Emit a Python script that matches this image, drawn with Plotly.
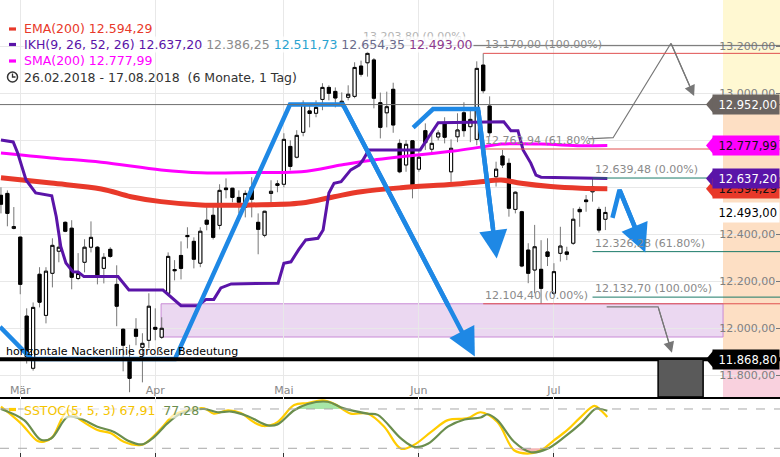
import plotly.graph_objects as go

# ---------------- data (trading-day index 0 = 26.02.2018) ----------------
opens = [12566, 12574, 12425, 12388, 12052, 11830, 12230, 12055, 12234, 12328,
         12451, 12426, 12212, 12281, 12345, 12345, 12255, 12336, 12187, 11996,
         11864, 11996, 11919, 11949, 12004, 11962, 12149, 12250, 12310, 12395,
         12370, 12277, 12460, 12481, 12438, 12597, 12596, 12557, 12515, 12600,
         12451, 12396, 12574, 12615, 12613, 12774, 12728, 12834, 12925, 12915,
         12974, 13025, 13008, 12953, 12983, 12987, 13116, 13130, 13142, 12960,
         12917, 13017, 12787, 12695, 12798, 12677, 12841, 12762, 12814, 12872,
         12666, 12815, 12917, 12858, 12804, 13120, 12946, 12645, 12733, 12702,
         12506, 12496, 12333, 12248, 12251, 12325, 12149, 12319, 12325, 12362,
         12506, 12546, 12581, 12506, 12464]
highs = [12600, 12587, 12516, 12390, 12085, 12110, 12260, 12260, 12383, 12383,
         12455, 12460, 12320, 12379, 12455, 12350, 12320, 12345, 12268, 12000,
         11930, 12043, 11979, 12149, 12085, 12047, 12323, 12290, 12370, 12430,
         12387, 12430, 12515, 12515, 12613, 12638, 12598, 12587, 12587, 12643,
         12489, 12500, 12630, 12630, 12830, 12800, 12843, 12970, 12957, 12970,
         13043, 13034, 13025, 13004, 13034, 13132, 13139, 13178, 13150, 13003,
         13007, 13045, 12804, 12801, 12801, 12759, 12872, 12830, 12843, 12898,
         12804, 12915, 12962, 12936, 13136, 13170, 12987, 12709, 12759, 12723,
         12583, 12500, 12362, 12440, 12375, 12383, 12277, 12432, 12347, 12511,
         12517, 12567, 12639.48, 12517, 12517]
lows = [12489, 12434, 12421, 12145, 11850, 11820, 12089, 12021, 12174, 12281,
        12409, 12166, 12205, 12238, 12323, 12187, 12191, 12300, 12009, 11817,
        11728, 11928, 11770, 11915, 11949, 11955, 12140, 12204, 12208, 12340,
        12255, 12260, 12417, 12378, 12421, 12553, 12536, 12489, 12472, 12472,
        12315, 12387, 12532, 12579, 12600, 12672, 12723, 12817, 12855, 12898,
        12928, 12970, 12940, 12940, 12970, 12979, 13071, 13071, 12936, 12808,
        12855, 12832, 12660, 12666, 12553, 12666, 12759, 12738, 12800, 12787,
        12623, 12792, 12815, 12792, 12779, 13000, 12815, 12603, 12682, 12475,
        12489, 12260, 12192, 12149, 12104.4, 12265, 12142, 12284, 12290, 12355,
        12432, 12496, 12539, 12407, 12418]
closes = [12528, 12489, 12433, 12187, 11880, 12089, 12111, 12243, 12353, 12345,
          12413, 12217, 12233, 12345, 12387, 12217, 12302, 12306, 12094, 11928,
          11787, 11966, 11936, 12094, 11996, 12000, 12306, 12245, 12255, 12390,
          12294, 12413, 12443, 12387, 12587, 12590, 12557, 12536, 12574, 12549,
          12421, 12498, 12583, 12608, 12804, 12689, 12821, 12957, 12914, 12940,
          13025, 13000, 12980, 12966, 12996, 13110, 13081, 13170, 12979, 12855,
          12943, 12865, 12666, 12783, 12606, 12728, 12790, 12787, 12831, 12813,
          12766, 12844, 12841, 12889, 13106, 13011, 12832, 12677, 12695, 12511,
          12579, 12265, 12234, 12347, 12170, 12306, 12241, 12350, 12315, 12464,
          12496, 12539, 12602, 12418, 12493]
day_idx = list(range(len(opens)))

month_idx = [3, 24, 44, 65, 86]
month_labels = ["Mär", "Apr", "Mai", "Jun", "Jul"]
price_ticks = [11800, 12000, 12200, 12400, 12600, 12800, 13000, 13200]

sma_x = [0, 7.8, 15.6, 24.9, 31.1, 38.9, 46.7, 52.9, 56.0, 62.2, 70.4, 74.6, 77.8, 84.0, 90.2, 94.3]
sma_y = [12746, 12725, 12707, 12674, 12662, 12663, 12666, 12695, 12709, 12730, 12754, 12771, 12784, 12784, 12777, 12777.99]

ema_x = [0, 7.8, 15.6, 20.2, 24.9, 31.1, 38.9, 46.7, 51.8, 56.0, 62.2, 70.4, 74.6, 77.8, 80.9, 85.5, 90.2, 94.3]
ema_y = [12641, 12618, 12593, 12560, 12539, 12525, 12525, 12533, 12560, 12581, 12598, 12613, 12624, 12631, 12617, 12603, 12596, 12594.29]

ikh_x = [0, 1.9, 2.6, 3.9, 5.4, 7.9, 8.6, 9.3, 10.1, 11.2, 12.0, 12.9, 18.2, 19.9, 25.2, 26.4, 28.0,
         30.6, 31.9, 33.1, 34.2, 35.8, 43.1, 44.0, 45.1, 46.3, 47.4, 49.3, 50.1, 51.0, 51.8, 52.9,
         54.4, 55.7, 56.3, 57.2, 65.2, 66.9, 68.0, 78.2, 79.3, 80.4, 81.2, 82.4, 83.2, 84.0, 94.3]
ikh_y = [12801, 12793, 12746, 12631, 12576, 12564, 12475, 12348, 12278, 12241, 12240, 12220, 12220,
         12163, 12163, 12135, 12096, 12096, 12123, 12123, 12172, 12189, 12192, 12277, 12283, 12335,
         12376, 12383, 12418, 12576, 12617, 12624, 12674, 12695, 12716, 12759, 12759, 12830, 12875,
         12879, 12841, 12841, 12759, 12703, 12652, 12643, 12637.20]

stk_x = [0, 3.1, 5.7, 6.7, 8.0, 10.4, 12.4, 15.0, 17.1, 19.1, 21.8, 22.8, 24.9, 26.9, 29.0, 31.6,
         33.1, 35.3, 37.3, 39.3, 40.9, 43.0, 45.6, 47.7, 50.0, 51.8, 54.4, 57.0, 59.6, 62.2, 64.2,
         66.9, 69.5, 72.6, 74.6, 77.2, 79.8, 81.9, 84.0, 86.0, 88.1, 90.2, 92.3, 93.3, 94.3]
stk_y = [83.5, 58, 31, 30, 37, 78, 63, 48, 43, 30, 25, 30, 50, 71, 78, 81, 73, 78, 74, 60, 54, 60,
         86, 89, 93, 88, 73, 73, 53, 19.5, 25, 45, 63, 66, 75, 60, 17, 12, 17, 32, 48, 68, 84.6, 78, 67.91]
std_x = [0, 3.6, 6.2, 7.8, 10.4, 12.4, 15.0, 17.6, 19.7, 22.0, 23.8, 25.9, 28.0, 31.6, 33.7, 35.8,
         38.4, 41.5, 43.0, 45.6, 47.7, 50.8, 53.3, 57.0, 58.6, 62.2, 64.3, 66.4, 69.5, 72.1, 74.6,
         75.7, 77.2, 79.8, 82.4, 85.0, 87.6, 90.2, 92.5, 93.3, 94.3]
std_y = [80, 63, 33, 35, 68, 65, 53, 45, 32, 26, 37, 58, 73, 80, 75, 76, 69, 55, 56.5, 78, 87.7, 91,
         81, 73, 71, 35, 22, 27, 53, 64, 67, 72, 63, 30, 14, 19.5, 37, 58, 80.5, 80, 77.28]

neckline = 11868.80
level_952 = 12952.00
fib0_level, fib0_start = 13203.80, 56
fibA_levels = [13170.00, 12762.94, 12104.40]
fibA_labels = ["13.170,00 (100.00%)", "12.762,94 (61.80%)", "12.104,40 (0.00%)"]
fibA_start = 75
fibB_levels = [12639.48, 12326.28, 12132.70]
fibB_labels = ["12.639,48 (0.00%)", "12.326,28 (61.80%)", "12.132,70 (100.00%)"]
fibB_start = 92

zone_x = [24.9, 112.3]
zone_y = [11963, 12104.4]
box_x = [102.2, 109.2]

blue_paths = [
    [(-0.15, 12006), (4.77, 11869), (27.06, 11869), (44.95, 12952), (53.2, 12952), (73.7, 11880)],
    [(64.1, 12854), (67.2, 12933), (74.2, 12933), (77.1, 12297)],
    [(95.1, 12470), (96.2, 12589), (100.2, 12323)],
]
gray_paths = [
    [(91.3, 12806), (95.2, 12811), (104.2, 13213), (107.8, 12988)],
    [(94.2, 12091), (102.2, 12091), (104.35, 11896)],
]

# ---------------- geometry ----------------
W, H = 780, 457
X0 = -0.15
X1 = X0 + W / 6.43
Y0, Y1 = 11707.7, 13397.0
SPLIT = (H - 397) / H
S0, S1 = 6.7, 98.3
FONT = "DejaVu Sans"
PPX = (Y1 - Y0) / 397.0  # price per pixel


def px(x):
    return x / W


def py(y):
    return 1 - y / H


fig = go.Figure()
shapes = []
annotations = []

# indicators
fig.add_trace(go.Scatter(x=ema_x, y=ema_y, mode="lines", line=dict(color="#e8392a", width=5, shape="spline"),
                         hoverinfo="skip"))
fig.add_trace(go.Scatter(x=sma_x, y=sma_y, mode="lines", line=dict(color="#ff00ff", width=3, shape="spline"),
                         hoverinfo="skip"))
fig.add_trace(go.Scatter(x=ikh_x, y=ikh_y, mode="lines", line=dict(color="#5a14a8", width=3),
                         hoverinfo="skip"))

# candles: gray wicks, then black-outlined bodies
fig.add_trace(go.Candlestick(
    x=day_idx, open=opens, high=highs, low=lows, close=closes,
    increasing=dict(line=dict(color="#777777", width=1), fillcolor="white"),
    decreasing=dict(line=dict(color="#777777", width=1), fillcolor="black"),
    whiskerwidth=0, hoverinfo="skip"))
body_hi = [max(o, c) for o, c in zip(opens, closes)]
body_lo = [min(o, c) for o, c in zip(opens, closes)]
fig.add_trace(go.Candlestick(
    x=day_idx, open=opens, high=body_hi, low=body_lo, close=closes,
    increasing=dict(line=dict(color="black", width=1), fillcolor="white"),
    decreasing=dict(line=dict(color="black", width=1), fillcolor="black"),
    whiskerwidth=0, hoverinfo="skip"))

# drawings: blue and gray polylines with arrow heads
for path, col, wd, head in [(p, "#1e88e5", 4.5, 1.25) for p in blue_paths] + \
                           [(p, "#777777", 1.2, 1.8) for p in gray_paths]:
    xs = [p[0] for p in path]
    ys = [p[1] for p in path]
    (ax_, ay_), (tx, ty) = path[-2], path[-1]
    f = 0.8
    xs[-1] = ax_ + (tx - ax_) * f
    ys[-1] = ay_ + (ty - ay_) * f
    fig.add_trace(go.Scatter(x=xs, y=ys, mode="lines", hoverinfo="skip",
                             line=dict(color=col, width=wd)))
    annotations.append(dict(x=tx, y=ty, ax=ax_, ay=ay_, xref="x", yref="y", axref="x", ayref="y",
                            text="", showarrow=True, arrowhead=2, arrowsize=head, arrowwidth=wd,
                            arrowcolor=col))

# stochastic panel
for lo_hi, base, col in [((45.0, 54.0), 80, "rgba(130,220,130,0.7)"), ((79.0, 86.5), 20, "rgba(240,150,150,0.7)")]:
    sx = [x for x in std_x if lo_hi[0] <= x <= lo_hi[1]]
    sy = [y for x, y in zip(std_x, std_y) if lo_hi[0] <= x <= lo_hi[1]]
    clipped = [max(v, base) if base == 80 else min(v, base) for v in sy]
    fig.add_trace(go.Scatter(x=sx, y=[base] * len(sx), xaxis="x2", yaxis="y2", mode="lines",
                             line=dict(width=0), hoverinfo="skip"))
    fig.add_trace(go.Scatter(x=sx, y=clipped, xaxis="x2", yaxis="y2", mode="lines", fill="tonexty",
                             fillcolor=col, line=dict(width=0, shape="spline"), hoverinfo="skip"))
fig.add_trace(go.Scatter(x=stk_x, y=stk_y, xaxis="x2", yaxis="y2", mode="lines",
                         line=dict(color="#ffcc00", width=2.2, shape="spline"), hoverinfo="skip"))
fig.add_trace(go.Scatter(x=std_x, y=std_y, xaxis="x2", yaxis="y2", mode="lines",
                         line=dict(color="#6b8e4e", width=2.2, shape="spline"), hoverinfo="skip"))

# right price-scale colour bands
bands = [(12985, Y1, "#fff8d2"), (11833, 12985, "#fddfc4"), (Y0, 11833, "#f9d1de")]
for b0, b1, c in bands:
    shapes.append(dict(type="rect", xref="paper", yref="y", x0=px(723), x1=1, y0=b0, y1=b1,
                       fillcolor=c, line=dict(width=0), layer="below"))
# zone rectangle
shapes.append(dict(type="rect", xref="x", yref="y", x0=zone_x[0], x1=zone_x[1], y0=zone_y[0], y1=zone_y[1],
                   fillcolor="rgba(222,190,232,0.6)", line=dict(color="#c98ad6", width=1), layer="below"))
# horizontal lines
shapes.append(dict(type="line", xref="paper", yref="y", x0=0, x1=1, y0=level_952, y1=level_952,
                   line=dict(color="#6f6f6f", width=1)))
shapes.append(dict(type="line", xref="paper", yref="y", x0=0, x1=1, y0=neckline, y1=neckline,
                   line=dict(color="black", width=4)))
shapes.append(dict(type="line", xref="x", yref="y", x0=fib0_start, x1=X1, y0=fib0_level, y1=fib0_level,
                   line=dict(color="#707070", width=1)))
for lv in fibA_levels:
    shapes.append(dict(type="line", xref="x", yref="y", x0=fibA_start, x1=X1, y0=lv, y1=lv,
                       line=dict(color="#e05050", width=1)))
for lv in fibB_levels:
    shapes.append(dict(type="line", xref="x", yref="y", x0=fibB_start, x1=X1, y0=lv, y1=lv,
                       line=dict(color="#1a7a68", width=1)))
# dark box
shapes.append(dict(type="rect", xref="x", yref="y", x0=box_x[0], x1=box_x[1], y0=Y0, y1=neckline,
                   fillcolor="#5a5a5a", line=dict(color="black", width=1.5)))
# stoch dashed levels
for lv in (80, 20):
    shapes.append(dict(type="line", xref="paper", yref="y2", x0=0, x1=1, y0=lv, y1=lv,
                       line=dict(color="#a8a8a8", width=1, dash="dash")))
# legend dashes
for yy, c in [(29, "#e8392a"), (44.5, "#5a14a8"), (61, "#ff00ff"), (409.5, "#ffcc00")]:
    shapes.append(dict(type="rect", xref="paper", yref="paper", x0=px(9), x1=px(16), y0=py(yy + 1.6),
                       y1=py(yy - 1.6), fillcolor=c, line=dict(width=0)))
# clock icon
shapes.append(dict(type="circle", xref="paper", yref="paper", x0=px(7.5), x1=px(17.5), y0=py(82), y1=py(72),
                   line=dict(color="#333", width=1.5)))
shapes.append(dict(type="path", xref="paper", yref="paper",
                   path=f"M {px(12.5)} {py(73.5)} L {px(12.5)} {py(77)} L {px(15.5)} {py(77)}",
                   line=dict(color="#333", width=1.3)))


def add_tag(value, text, bg, fg):
    half = 9.5 * PPX
    left = px(W - 66)
    shapes.append(dict(type="path", xref="paper", yref="y",
                       path=f"M {left} {value + half} L {px(W - 74)} {value} L {left} {value - half} Z",
                       fillcolor=bg, line=dict(width=0), layer="above"))
    annotations.append(dict(x=1, xref="paper", xanchor="right", y=value, yref="y", yanchor="middle",
                            text=text, showarrow=False, bgcolor=bg, width=62, height=15, borderpad=2,
                            align="right", font=dict(color=fg, size=11.5, family=FONT)))


add_tag(12952.00, "12.952,00", "#6b6461", "white")
add_tag(12777.99, "12.777,99", "#ff00ff", "#111")
add_tag(12594.29, "12.594,29", "#e8392a", "#111")
add_tag(12637.20, "12.637,20", "#5a14a8", "white")
add_tag(12493.00, "12.493,00", "white", "black")
add_tag(11868.80, "11.868,80", "black", "white")

# fib labels
annotations.append(dict(x=fib0_start, y=fib0_level, xref="x", yref="y", xanchor="left", yanchor="bottom",
                        text="13.203,80 (0.00%)", showarrow=False,
                        font=dict(color="#b5b5b5", size=11, family=FONT)))
for lv, lab in zip(fibA_levels, fibA_labels):
    annotations.append(dict(x=fibA_start, y=lv, xref="x", yref="y", xanchor="left", yanchor="bottom",
                            text=lab, showarrow=False, font=dict(color="#8a8a8a", size=11, family=FONT)))
for lv, lab in zip(fibB_levels, fibB_labels):
    annotations.append(dict(x=fibB_start, y=lv, xref="x", yref="y", xanchor="left", yanchor="bottom",
                            text=lab, showarrow=False, font=dict(color="#8a8a8a", size=11, family=FONT)))

annotations.append(dict(x=px(4), y=neckline, xref="paper", yref="y", xanchor="left", yanchor="bottom",
                        text="horizontale Nackenlinie großer Bedeutung", showarrow=False, yshift=-1,
                        font=dict(color="black", size=11, family=FONT)))

# header
hdr = [
    (28.7, "<span style='color:#e8392a'>EMA(200) 12.594,29</span>", None),
    (44.5, "<span style='color:#5a14a8'>IKH(9, 26, 52, 26) 12.637,20</span> "
           "<span style='color:#8c8c8c'>12.386,25</span> <span style='color:#2aa3d0'>12.511,73</span> "
           "<span style='color:#6b6b8c'>12.654,35</span> <span style='color:#8e3a8e'>12.493,00</span>",
     "rgba(255,255,255,0.8)"),
    (61, "<span style='color:#ff00ff'>SMA(200) 12.777,99</span>", None),
    (77, "<span style='color:#333'>26.02.2018 - 17.08.2018  (6 Monate, 1 Tag)</span>", None),
]
for yy, t, bg in hdr:
    annotations.append(dict(x=px(23), y=py(yy), xref="paper", yref="paper", xanchor="left", yanchor="middle",
                            text=t, showarrow=False, bgcolor=bg, borderpad=0,
                            font=dict(size=12.5, family=FONT)))
annotations.append(dict(x=px(23), y=py(410), xref="paper", yref="paper", xanchor="left", yanchor="middle",
                        text="<span style='color:#f5c400'>SSTOC(5, 5, 3) 67,91</span>  "
                             "<span style='color:#6b8e4e'>77,28</span>",
                        showarrow=False, bgcolor="rgba(255,255,255,0.65)", borderpad=0,
                        font=dict(size=12.5, family=FONT)))

fig.update_layout(
    width=W, height=H, margin=dict(l=0, r=0, t=0, b=0, pad=0), autosize=False,
    paper_bgcolor="white", plot_bgcolor="white", showlegend=False, separators=",.",
    font=dict(family=FONT, size=11, color="#888"),
    xaxis=dict(domain=[0, 1], range=[X0, X1], anchor="y", tickmode="array", tickvals=month_idx,
               ticktext=month_labels, ticklabelposition="inside", ticks="", showgrid=True,
               gridcolor="#e8e8e8", showline=True, linecolor="black", linewidth=2, zeroline=False,
               automargin=False,
               rangeslider=dict(visible=False), tickfont=dict(color="#888", size=11, family=FONT)),
    yaxis=dict(domain=[SPLIT, 1], range=[Y0, Y1], side="right", anchor="x", tickmode="array",
               tickvals=price_ticks, tickformat=",.2f", ticklabelposition="inside", ticks="inside",
               ticklen=4, tickcolor="#777", showgrid=True, gridcolor="#e8e8e8", zeroline=False,
               automargin=False,
               tickfont=dict(color="#808080", size=11, family=FONT)),
    xaxis2=dict(domain=[0, 1], range=[X0, X1], anchor="y2", tickmode="array", tickvals=month_idx,
                showticklabels=False, ticks="inside", ticklen=4, tickcolor="#333", showgrid=True,
                gridcolor="#e8e8e8", zeroline=False, automargin=False),
    yaxis2=dict(domain=[0, SPLIT], range=[S0, S1], anchor="x2", showticklabels=False, showgrid=False,
                zeroline=False, automargin=False),
)
fig.layout.shapes = shapes
fig.layout.annotations = annotations

fig.write_html("out.html", config={"displayModeBar": False},
               post_script="document.body.style.margin='0px';document.body.style.overflow='hidden';")
